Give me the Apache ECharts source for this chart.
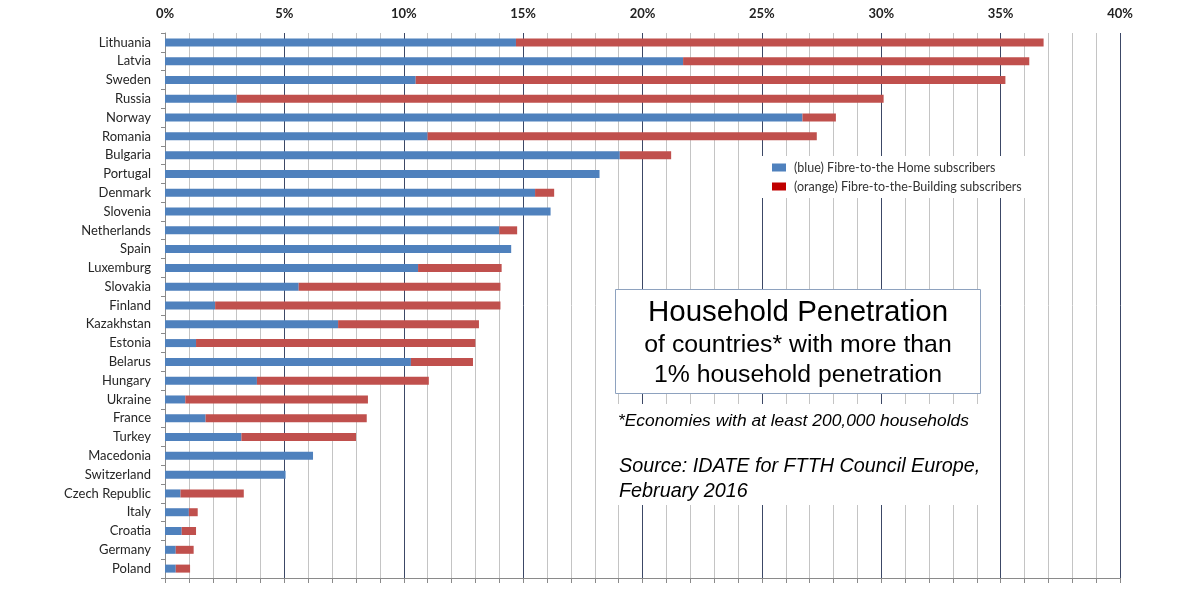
<!DOCTYPE html>
<html>
<head>
<meta charset="utf-8">
<script src="https://cdn.jsdelivr.net/npm/echarts@6/dist/echarts.min.js"></script>
<style>
html,body{margin:0;padding:0;background:#fff;}
#chart{width:1195px;height:592px;}
</style>
</head>
<body>
<div id="chart"></div>
<script>
const categories = ["Lithuania","Latvia","Sweden","Russia","Norway","Romania","Bulgaria","Portugal","Denmark","Slovenia","Netherlands","Spain","Luxemburg","Slovakia","Finland","Kazakhstan","Estonia","Belarus","Hungary","Ukraine","France","Turkey","Macedonia","Switzerland","Czech Republic","Italy","Croatia","Germany","Poland"];
const ftthValues = [14.7,21.7,10.5,3.0,26.7,11.0,19.05,18.2,15.5,16.15,14.0,14.5,10.6,5.6,2.1,7.25,1.3,10.3,3.85,0.85,1.7,3.2,6.2,5.05,0.65,1.0,0.7,0.45,0.45];
const ftbValues  = [22.1,14.5,24.7,27.1,1.4,16.3,2.15,0,0.8,0,0.75,0,3.5,8.45,11.95,5.9,11.7,2.6,7.2,7.65,6.75,4.8,0,0,2.65,0.37,0.6,0.75,0.6];
const tickValues = [0,5,10,15,20,25,30,35,40];
const legendNames = ["(blue) Fibre-to-the Home subscribers","(orange) Fibre-to-the-Building subscribers"];
const boxLines = ["Household Penetration","of countries* with more than","1% household penetration"];
const noteLines = ["*Economies with at least 200,000 households","Source: IDATE for FTTH Council Europe,","February 2016"];
</script>
<script>
const chart = echarts.init(document.getElementById('chart'), null, {renderer:'canvas'});
const lab = '"Lato","Open Sans",sans-serif';
const arial = '"Liberation Sans", Arial, sans-serif';
const option = {
  animation:false,
  backgroundColor:'#ffffff',
  grid:{left:165,right:75,top:33,bottom:14,containLabel:false},
  legend:{
    left:758, top:156, orient:'vertical',
    backgroundColor:'#ffffff',
    padding:[5,10,5,14],
    itemWidth:14, itemHeight:8, itemGap:6,
    icon:'rect',
    textStyle:{fontFamily:lab,fontSize:12.5,color:'#333333',padding:[0,0,0,3]},
    data:[
      {name:legendNames[0],itemStyle:{color:'#4F81BD'}},
      {name:legendNames[1],itemStyle:{color:'#C00000'}}
    ]
  },
  xAxis:[
    {
      type:'value', position:'top', min:tickValues[0], max:tickValues[tickValues.length-1], interval:5, z:3,
      axisLine:{show:false}, axisTick:{show:false},
      axisLabel:{formatter:'{value}%',fontFamily:lab,fontWeight:'bold',fontSize:13,color:'#222',margin:13},
      splitLine:{show:true,lineStyle:{color:'#3c4866',width:1}}
    },
    {
      type:'value', position:'bottom', min:0, max:40, interval:1, z:1,
      axisLine:{show:true,lineStyle:{color:'#8a8a8a'}},
      axisTick:{show:true,length:5,lineStyle:{color:'#8a8a8a'}},
      axisLabel:{show:false},
      splitLine:{show:true,lineStyle:{color:'#c4c4c4',width:1}}
    }
  ],
  yAxis:{
    type:'category', data:categories, inverse:true,
    axisLine:{show:true,lineStyle:{color:'#8a8a8a'}},
    axisTick:{show:true,length:4,lineStyle:{color:'#8a8a8a'}},
    axisLabel:{fontFamily:lab,fontSize:13,color:'#262626',margin:14},
    splitLine:{show:false}, z:3
  },
  series:[
    {name:legendNames[0],type:'bar',stack:'t',xAxisIndex:0,data:ftthValues,barWidth:8,
     itemStyle:{color:'#4F81BD'},z:4},
    {name:legendNames[1],type:'bar',stack:'t',xAxisIndex:0,data:ftbValues,barWidth:8,
     itemStyle:{color:'#C0504D'},z:4}
  ],
  graphic:[
    {type:'rect',z:50,shape:{x:615.5,y:289.5,width:365,height:104},
     style:{fill:'#ffffff',stroke:'#8ea2bf',lineWidth:1}},
    {type:'text',z:51,style:{x:798,y:313,text:boxLines[0],align:'center',verticalAlign:'middle',
      font:'29.5px ' + arial,fill:'#000'}},
    {type:'text',z:51,style:{x:798,y:345,text:boxLines[1],align:'center',verticalAlign:'middle',
      font:'24.8px ' + arial,fill:'#000'}},
    {type:'text',z:51,style:{x:798,y:375,text:boxLines[2],align:'center',verticalAlign:'middle',
      font:'24.8px ' + arial,fill:'#000'}},
    {type:'rect',z:50,shape:{x:612,y:404,width:378,height:101},
     style:{fill:'#ffffff',stroke:null}},
    {type:'text',z:51,style:{x:618,y:421,text:noteLines[0],align:'left',verticalAlign:'middle',
      font:'italic 17.4px ' + arial,fill:'#000'}},
    {type:'text',z:51,style:{x:619,y:466,text:noteLines[1],align:'left',verticalAlign:'middle',
      font:'italic 19.8px ' + arial,fill:'#000'}},
    {type:'text',z:51,style:{x:619,y:491,text:noteLines[2],align:'left',verticalAlign:'middle',
      font:'italic 19.8px ' + arial,fill:'#000'}}
  ]
};
chart.setOption(option);
</script>
</body>
</html>
